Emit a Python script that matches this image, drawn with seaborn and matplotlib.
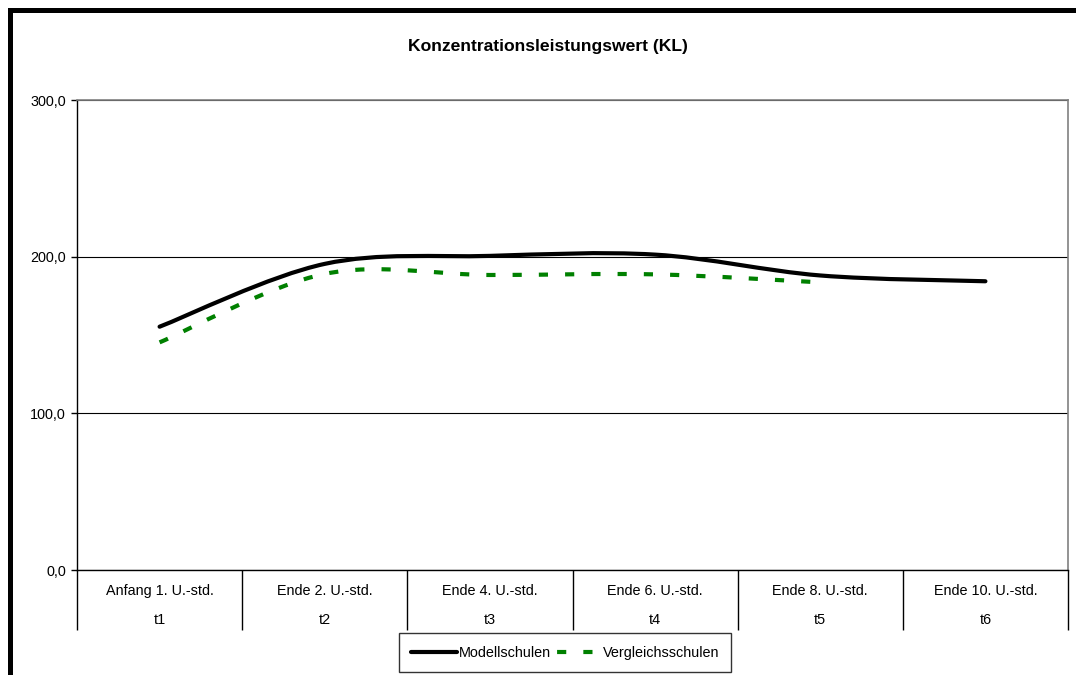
import numpy as np
import pandas as pd
import matplotlib
matplotlib.use("Agg")
import matplotlib.pyplot as plt
import matplotlib.transforms as mtransforms
from matplotlib.path import Path
from matplotlib.patches import PathPatch, Rectangle
from matplotlib.lines import Line2D
import seaborn as sns

# Werte
title = "Konzentrationsleistungswert (KL)"
stunden = ["Anfang 1. U.-std.", "Ende 2. U.-std.", "Ende 4. U.-std.",
           "Ende 6. U.-std.", "Ende 8. U.-std.", "Ende 10. U.-std."]
zeitpunkte = ["t1", "t2", "t3", "t4", "t5", "t6"]
modellschulen = [155.3, 195.4, 200.5, 201.3, 188.0, 184.3]
vergleichsschulen = [145.3, 189.0, 188.3, 188.7, 183.6, np.nan]
y_ticks = [0, 100, 200, 300]
y_labels = ["0,0", "100,0", "200,0", "300,0"]

W, H = 1076, 675
FS = 10.4


def smooth_path(xy):
    # Excel-artige Glaettung: kubische Bezier-Segmente durch die Datenpunkte
    n = len(xy)
    verts = [xy[0]]
    codes = [Path.MOVETO]
    for i in range(n - 1):
        p0 = xy[max(i - 1, 0)]
        p1 = xy[i]
        p2 = xy[i + 1]
        p3 = xy[min(i + 2, n - 1)]
        verts += [p1 + (p2 - p0) / 6, p2 - (p3 - p1) / 6, p2]
        codes += [Path.CURVE4] * 3
    return Path(verts, codes)


sns.set_style("white")
plt.rcParams["font.family"] = ["Liberation Sans", "DejaVu Sans"]
plt.rcParams["text.color"] = "black"
plt.rcParams["xtick.color"] = "black"
plt.rcParams["ytick.color"] = "black"

df = pd.DataFrame({
    "pos": np.arange(len(zeitpunkte)),
    "Modellschulen": modellschulen,
    "Vergleichsschulen": vergleichsschulen,
})

fig = plt.figure(figsize=(W / 100, H / 100), dpi=100)
ax = fig.add_axes([77 / W, 1 - 570 / H, (1068 - 77) / W, 470 / H])

sns.lineplot(data=df, x="pos", y="Modellschulen", ax=ax, color="black", linewidth=3, legend=False)
sns.lineplot(data=df.dropna(), x="pos", y="Vergleichsschulen", ax=ax, color="#008000", linewidth=3, legend=False)

# gerade Linien durch geglaettete Kurven ersetzen
styles = [dict(edgecolor="black", linewidth=3, capstyle="round", linestyle="-"),
          dict(edgecolor="#008000", linewidth=3, capstyle="butt", linestyle=(0, (2.2, 4.1)))]
for line, st in zip(list(ax.lines), styles):
    xy = line.get_xydata()
    xy = xy[~np.isnan(xy).any(axis=1)]
    ax.add_patch(PathPatch(smooth_path(xy), facecolor="none", zorder=3, **st))
    line.set_visible(False)

ax.set_xlim(-0.5, len(zeitpunkte) - 0.5)
ax.set_ylim(0, 300)
ax.set_xlabel("")
ax.set_ylabel("")

ax.set_xticks(np.arange(-0.5, len(zeitpunkte), 1))
ax.set_xticklabels([])
ax.tick_params(axis="x", bottom=True, length=43, width=1, color="black", direction="out")
ax.set_yticks(y_ticks)
ax.set_yticklabels(y_labels, fontsize=FS, color="black")
ax.tick_params(axis="y", left=True, length=4, width=1, color="black", direction="out", pad=4)

ax.yaxis.grid(True, color="black", linewidth=0.8)
ax.set_axisbelow(True)

for side in ["left", "bottom"]:
    ax.spines[side].set_color("black")
    ax.spines[side].set_linewidth(1)
for side in ["top", "right"]:
    ax.spines[side].set_color("#808080")
    ax.spines[side].set_linewidth(1.2)

trans = mtransforms.blended_transform_factory(ax.transData, ax.transAxes)
for i, (s, t) in enumerate(zip(stunden, zeitpunkte)):
    ax.text(i, -21 / 470, s, transform=trans, ha="center", va="center", fontsize=FS, color="black")
    ax.text(i, -50 / 470, t, transform=trans, ha="center", va="center", fontsize=FS, color="black")

fig.text(548 / W, 1 - 47 / H, title, ha="center", va="center", fontsize=12.6,
         fontweight="bold", color="black")

handles = [Line2D([], [], color="black", linewidth=3, solid_capstyle="round"),
           Line2D([], [], color="#008000", linewidth=3, linestyle=(5.8, (2.2, 4.1)))]
leg = fig.legend(handles, ["Modellschulen", "Vergleichsschulen"], loc="lower center",
                 bbox_to_anchor=(565 / W, 3 / H), ncol=2, fontsize=FS, frameon=True,
                 fancybox=False, edgecolor="black", handlelength=3.2, handletextpad=0.1,
                 columnspacing=0.3, borderpad=0.85, borderaxespad=0)
leg.get_frame().set_linewidth(1)
for txt in leg.get_texts():
    txt.set_color("black")

# dicker Rahmen um das Diagramm (rechts/unten abgeschnitten)
fig.add_artist(Rectangle((9.5 / W, -0.1), 1.2, 1.1 - 10 / H, transform=fig.transFigure,
                         fill=False, edgecolor="black", linewidth=3.6))

fig.savefig("out.png", dpi=100)
